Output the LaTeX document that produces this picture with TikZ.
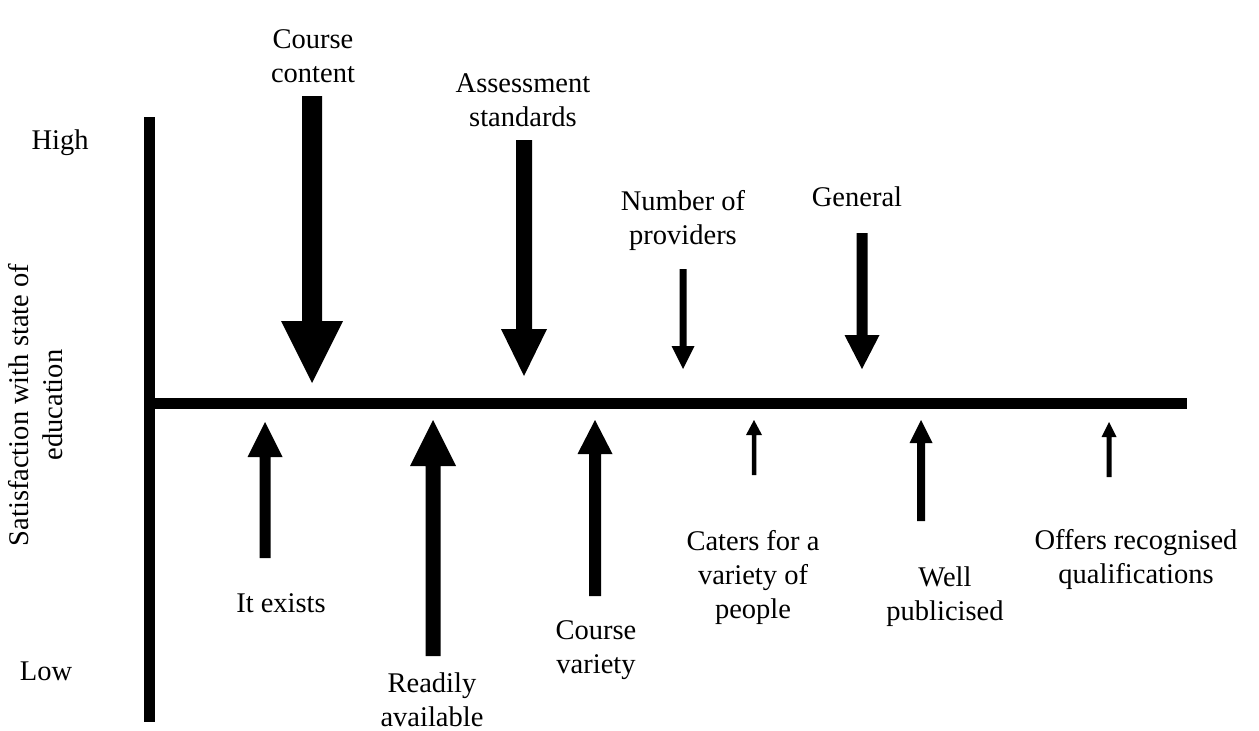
\documentclass[tikz,border=0pt]{standalone}
\usepackage{fontspec}
\setmainfont{Liberation Serif}
\newcommand\blockarr[6]{% x, y tail, y head base, y tip, shaft width, head width
  \fill (#1-#5/2,#2) -- (#1+#5/2,#2) -- (#1+#5/2,#3) -- (#1+#6/2,#3) -- (#1,#4) -- (#1-#6/2,#3) -- (#1-#5/2,#3) -- cycle;}
\tikzset{lbl/.style={inner sep=0pt, align=center, font=\fontsize{28.5}{34}\selectfont}}
\begin{document}
\begin{tikzpicture}[x=1pt,y=-1pt]
\useasboundingbox (0,0) rectangle (1259,731);
% axes
\fill (144,117) rectangle (155,722);
\fill (144,398) rectangle (1187,409);
% axis labels
\node[lbl] (high) at (60,143) {High};
\node[lbl] (low) at (46,671) {Low};
\node[lbl, rotate=90] (ylab) at (36,405) {Satisfaction with state of\\education};
% downward arrows
\blockarr{312}{96}{321}{383}{20}{62}
\blockarr{524}{140}{329}{376}{16}{46}
\blockarr{683}{269}{346}{369}{7}{23}
\blockarr{862}{233}{335}{369}{11}{35}
% upward arrows
\blockarr{265}{558}{457}{422}{11}{35}
\blockarr{433}{656}{466}{420}{15}{46}
\blockarr{595}{596}{454}{420}{12}{35}
\blockarr{754}{475}{435}{420}{4.5}{16}
\blockarr{921}{521}{443}{420}{8}{23}
\blockarr{1109}{477}{437}{422}{5}{15}
% labels above
\node[lbl] (cc) at (313,56) {Course\\content};
\node[lbl] (as) at (523,100) {Assessment\\standards};
\node[lbl] (np) at (683,220) {Number of\\providers};
\node[lbl] (gen) at (857,197) {General};
% labels below
\node[lbl] (ie) at (281,603) {It exists};
\node[lbl] (ra) at (432,700) {Readily\\available};
\node[lbl] (cv) at (596,650) {Course\\variety};
\node[lbl] (cat) at (753,577) {Caters for a\\variety of\\people};
\node[lbl] (wp) at (945,597) {Well\\publicised};
\node[lbl] (orq) at (1136,559) {Offers recognised\\qualifications};
\end{tikzpicture}
\end{document}
